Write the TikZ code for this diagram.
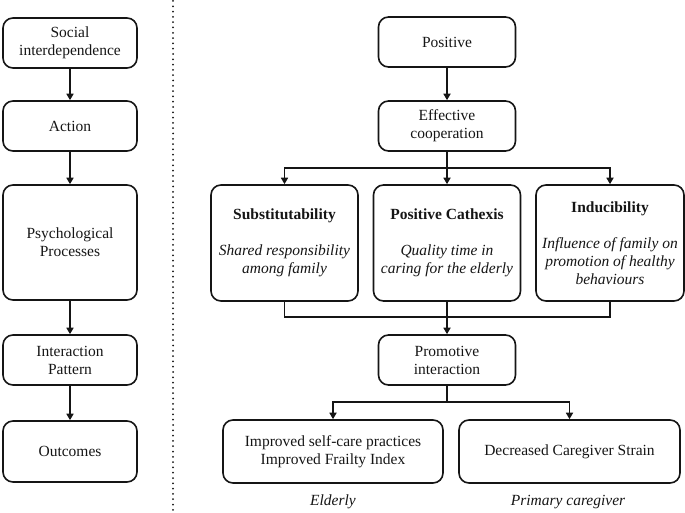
\documentclass[tikz,border=0pt]{standalone}
\usepackage{fontspec}
\setmainfont{Liberation Serif}
\usetikzlibrary{arrows.meta}
\definecolor{ink}{HTML}{151515}
\tikzset{
  box/.style={draw=ink, line width=1.6pt, rounded corners=10pt, align=center, text=ink,
    font=\fontsize{15.5}{18}\selectfont, inner sep=2pt},
  lbl/.style={text=ink, font=\fontsize{15.5}{18}\selectfont\itshape},
  conn/.style={draw=ink, line width=1.6pt},
  arr/.style={conn, -{Triangle[length=6.5pt,width=7pt]}},
}
\begin{document}
\begin{tikzpicture}[x=1pt,y=-1pt]
\useasboundingbox (0,0) rectangle (685,513);
% left column
\node[box, minimum width=134pt, minimum height=50pt] (si) at (70,43) {Social\\interdependence};
\node[box, minimum width=134pt, minimum height=50pt] (ac) at (70,126) {Action};
\node[box, minimum width=134pt, minimum height=115pt] (pp) at (70,242.5) {Psychological\\Processes};
\node[box, minimum width=134pt, minimum height=50pt] (ip) at (70,360) {Interaction\\Pattern};
\node[box, minimum width=134pt, minimum height=61pt] (oc) at (70,451.5) {Outcomes};
\draw[arr] (si) -- (ac);
\draw[arr] (ac) -- (pp);
\draw[arr] (pp) -- (ip);
\draw[arr] (ip) -- (oc);
% divider
\coordinate (dtop) at (173,1);
\coordinate (dbot) at (173,512);
\draw[ink, line width=2pt, dash pattern=on 0pt off 5.3pt, line cap=round] (dtop) -- (dbot);
% right part
\node[box, minimum width=137pt, minimum height=50pt] (pos) at (447,42) {Positive};
\node[box, minimum width=137pt, minimum height=50pt] (eff) at (447,126) {Effective\\cooperation};
\node[box, minimum width=147pt, minimum height=116pt] (sub) at (284.5,243)
  {\textbf{Substitutability}\\[18pt]\textit{Shared responsibility}\\\textit{among family}};
\node[box, minimum width=147pt, minimum height=116pt] (pc) at (447,243)
  {\textbf{Positive Cathexis}\\[18pt]\textit{Quality time in}\\\textit{caring for the elderly}};
\node[box, minimum width=148pt, minimum height=116pt] (ind) at (610,243)
  {\textbf{Inducibility}\\[18pt]\textit{Influence of family on}\\\textit{promotion of healthy}\\\textit{behaviours}};
\node[box, minimum width=137pt, minimum height=50pt] (prom) at (447,360) {Promotive\\interaction};
\node[box, minimum width=220pt, minimum height=63pt] (imp) at (333,451.5) {Improved self-care practices\\Improved Frailty Index};
\node[box, minimum width=221pt, minimum height=63pt] (dec) at (569.5,451.5) {Decreased Caregiver Strain};
\node[lbl] (eld) at (333,502) {Elderly};
\node[lbl] (pcg) at (568,502) {Primary caregiver};
\coordinate (split1) at (447,168);
\coordinate (merge) at (447,317);
\coordinate (split2) at (447,402);
\draw[arr] (pos) -- (eff);
\draw[conn] (eff.south) -- (split1);
\draw[arr] (split1) -| (sub.north);
\draw[arr] (split1) -| (ind.north);
\draw[arr] (split1) -- (pc.north);
\draw[conn] (sub.south) |- (merge);
\draw[conn] (ind.south) |- (merge);
\draw[arr] (pc.south) -- (prom.north);
\draw[conn] (prom.south) -- (split2);
\draw[arr] (split2) -| (imp.north);
\draw[arr] (split2) -| (dec.north);
\end{tikzpicture}
\end{document}
